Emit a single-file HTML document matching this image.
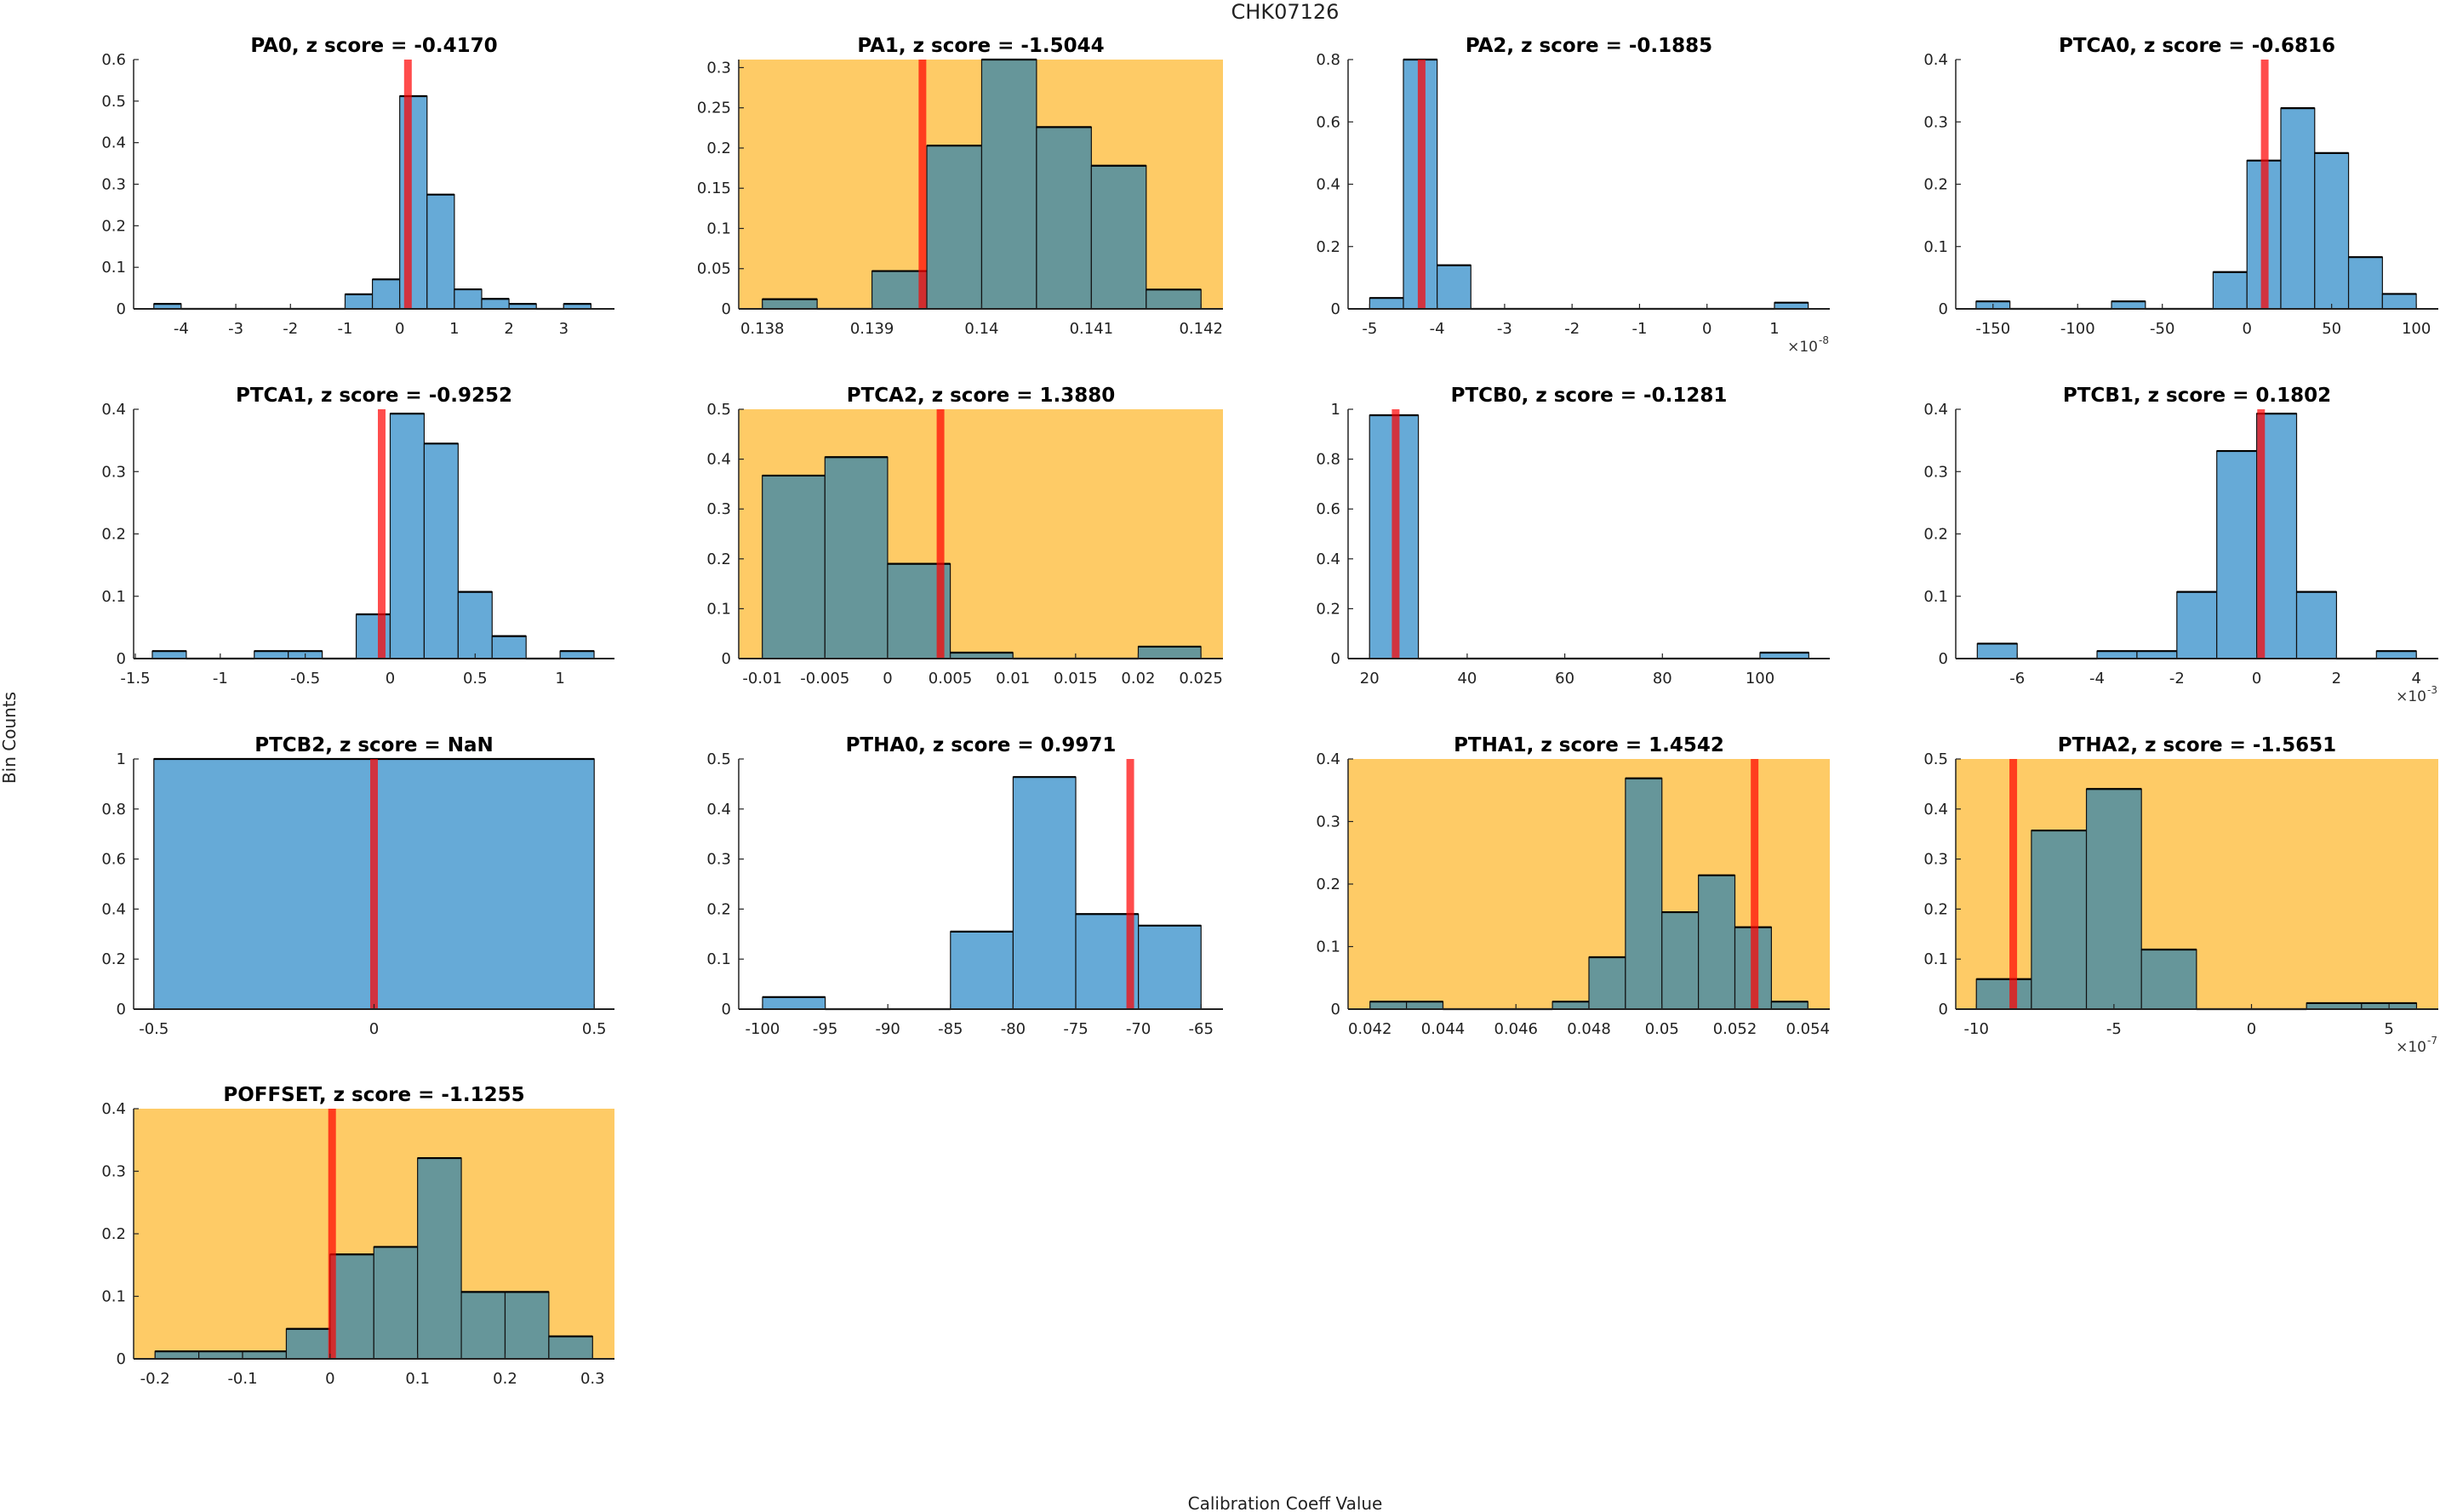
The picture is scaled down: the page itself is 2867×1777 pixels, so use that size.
<!DOCTYPE html>
<html><head><meta charset="utf-8"><style>
html,body{margin:0;padding:0;background:#fff;}
svg{display:block;font-family:"DejaVu Sans","Liberation Sans",sans-serif;}
</style></head><body>
<svg id="fig" width="2867" height="1777" viewBox="0 0 2867 1777" xmlns="http://www.w3.org/2000/svg">
<text x="1510" y="22" text-anchor="middle" font-size="24" fill="#222">CHK07126</text>
<text x="1510" y="1774" text-anchor="middle" font-size="20" fill="#222">Calibration Coeff Value</text>
<text x="0" y="0" transform="translate(18,867) rotate(-90)" text-anchor="middle" font-size="20" fill="#222">Bin Counts</text>
</svg>
<script>
const titles = ["PA0","PA1","PA2","PTCA0","PTCA1","PTCA2","PTCB0","PTCB1","PTCB2","PTHA0","PTHA1","PTHA2","POFFSET"];
const zScores = ["-0.4170","-1.5044","-0.1885","-0.6816","-0.9252","1.3880","-0.1281","0.1802","NaN","0.9971","1.4542","-1.5651","-1.1255"];
const highlighted = [false,true,false,false,false,true,false,false,false,false,true,true,true];
const binStarts = [-4.5,0.138,-5,-160,-1.4,-0.01,20,-7,-0.5,-100,0.042,-10,-0.2];
const binWidths = [0.5,0.0005,0.5,20,0.2,0.005,10,1,1,5,0.001,2,0.05];
const countsPA0 = [0.012,0,0,0,0,0,0,0.035,0.071,0.512,0.275,0.047,0.024,0.012,0,0.012];
const countsPA1 = [0.012,0,0.047,0.203,0.310,0.226,0.178,0.024];
const countsPA2 = [0.035,0.80,0.14,0,0,0,0,0,0,0,0,0,0.02];
const countsPTCA0 = [0.012,0,0,0,0.012,0,0,0.059,0.238,0.322,0.25,0.083,0.024];
const countsPTCA1 = [0.012,0,0,0.012,0.012,0,0.071,0.393,0.345,0.107,0.036,0,0.012];
const countsPTCA2 = [0.367,0.404,0.19,0.012,0,0,0.024];
const countsPTCB0 = [0.976,0,0,0,0,0,0,0,0.024];
const countsPTCB1 = [0.024,0,0,0.012,0.012,0.107,0.333,0.393,0.107,0,0.012];
const countsPTCB2 = [1];
const countsPTHA0 = [0.024,0,0,0.155,0.464,0.19,0.167];
const countsPTHA1 = [0.012,0.012,0,0,0,0.012,0.083,0.369,0.155,0.214,0.131,0.012];
const countsPTHA2 = [0.06,0.357,0.44,0.119,0,0,0.012,0.012];
const countsPOFFSET = [0.012,0.012,0.012,0.048,0.167,0.179,0.321,0.107,0.107,0.036];
const countsList = [countsPA0,countsPA1,countsPA2,countsPTCA0,countsPTCA1,countsPTCA2,countsPTCB0,countsPTCB1,countsPTCB2,countsPTHA0,countsPTHA1,countsPTHA2,countsPOFFSET];
const refValues = [0.15,0.13946,-4.23,10.5,-0.05,0.00422,25.35,0.11,0,-70.65,0.05254,-8.66,0.0023];
const xMins = [-4.87,0.137785,-5.32,-172,-1.51,-0.01188,15.6,-7.54,-0.546,-101.9,0.0414,-10.75,-0.2245];
const xMaxs = [3.93,0.1422,1.82,113,1.32,0.02676,114.3,4.55,0.546,-63.25,0.0546,6.79,0.325];
const yMaxs = [0.6,0.31,0.8,0.4,0.4,0.5,1,0.4,1,0.5,0.4,0.5,0.4];
const xTicksPA0 = [-4,-3,-2,-1,0,1,2,3];
const xTicksPA1 = [0.138,0.139,0.14,0.141,0.142];
const xTicksPA2 = [-5,-4,-3,-2,-1,0,1];
const xTicksPTCA0 = [-150,-100,-50,0,50,100];
const xTicksPTCA1 = [-1.5,-1,-0.5,0,0.5,1];
const xTicksPTCA2 = [-0.01,-0.005,0,0.005,0.01,0.015,0.02,0.025];
const xTicksPTCB0 = [20,40,60,80,100];
const xTicksPTCB1 = [-6,-4,-2,0,2,4];
const xTicksPTCB2 = [-0.5,0,0.5];
const xTicksPTHA0 = [-100,-95,-90,-85,-80,-75,-70,-65];
const xTicksPTHA1 = [0.042,0.044,0.046,0.048,0.05,0.052,0.054];
const xTicksPTHA2 = [-10,-5,0,5];
const xTicksPOFFSET = [-0.2,-0.1,0,0.1,0.2,0.3];
const xTicksList = [xTicksPA0,xTicksPA1,xTicksPA2,xTicksPTCA0,xTicksPTCA1,xTicksPTCA2,xTicksPTCB0,xTicksPTCB1,xTicksPTCB2,xTicksPTHA0,xTicksPTHA1,xTicksPTHA2,xTicksPOFFSET];
const yTicks01 = [0,0.1,0.2,0.3,0.4,0.5,0.6];
const yTicks005 = [0,0.05,0.1,0.15,0.2,0.25,0.3];
const yTicks02 = [0,0.2,0.4,0.6,0.8,1];
const yTicksList = [yTicks01,yTicks005,yTicks02,yTicks01,yTicks01,yTicks01,yTicks02,yTicks01,yTicks02,yTicks01,yTicks01,yTicks01,yTicks01];
const exponentLabels = ["","","-8","","","","","-3","","","","-7",""];

const NS = "http://www.w3.org/2000/svg";
const svg = document.getElementById("fig");
const colLeft = [157,868,1584,2298];
const colRight = [722,1437,2150,2865];
const rowTop = [70,481,892,1303];
const rowBottom = [363,774,1186,1597];

function mk(tag, attrs, parent){
  const e = document.createElementNS(NS, tag);
  for (const k in attrs) e.setAttribute(k, attrs[k]);
  parent.appendChild(e);
  return e;
}

titles.forEach((name, i) => {
  const col = i % 4, row = Math.floor(i / 4);
  const L = colLeft[col], R = colRight[col], T = rowTop[row], B = rowBottom[row];
  const xs = v => L + (v - xMins[i]) / (xMaxs[i] - xMins[i]) * (R - L);
  const ys = v => B - v / yMaxs[i] * (B - T);
  const g = mk("g", {}, svg);
  
  
  if (highlighted[i]) {
    const bg = mk("rect", {x:L, y:T, width:R-L, height:B-T, fill:"#FECB66"}, g);
    
    
  }
  const fill = highlighted[i] ? "#66969A" : "#66AAD7";
  countsList[i].forEach((c, k) => {
    const x0 = xs(binStarts[i] + k * binWidths[i]);
    const x1 = xs(binStarts[i] + (k + 1) * binWidths[i]);
    const y = ys(c);
    const r = mk("rect", {x:x0, y:y, width:x1-x0, height:Math.max(B-y,0), fill:fill, stroke:"#111", "stroke-width":1.2}, g);
    
    
    const top = mk("line", {x1:x0, x2:x1, y1:y, y2:y, stroke:"#000", "stroke-width":2.2}, g);
    
    
  });
  const rl = mk("line", {x1:xs(refValues[i]), x2:xs(refValues[i]), y1:T, y2:B, stroke:"rgba(255,0,0,0.7)", "stroke-width":9}, g);
  
  
  const ax = mk("line", {x1:L, x2:R, y1:B, y2:B, stroke:"#222", "stroke-width":2}, g);
  
  
  const ay = mk("line", {x1:L, x2:L, y1:T, y2:B, stroke:"#222", "stroke-width":1.5}, g);
  
  
  xTicksList[i].forEach(v => {
    const x = xs(v);
    const tk = mk("line", {x1:x, x2:x, y1:B, y2:B-6, stroke:"#222", "stroke-width":1.2}, g);
    
    
    const t = mk("text", {x:x, y:B+29, "text-anchor":"middle", "font-size":18, fill:"#222"}, g);
    t.textContent = String(v);
    
    
  });
  yTicksList[i].filter(v => v <= yMaxs[i] + 1e-9).forEach(v => {
    const y = ys(v);
    const tk = mk("line", {x1:L, x2:L+6, y1:y, y2:y, stroke:"#222", "stroke-width":1.2}, g);
    
    
    const t = mk("text", {x:L-9, y:y+6, "text-anchor":"end", "font-size":18, fill:"#222"}, g);
    t.textContent = String(v);
    
    
  });
  const tt = mk("text", {x:(L+R)/2, y:T-9, "text-anchor":"middle", "font-size":23, "font-weight":"bold", fill:"#000"}, g);
  tt.textContent = name + ", z score = " + zScores[i];
  
  
  if (exponentLabels[i]) {
    const ex = mk("text", {x:R-14, y:B+50, "text-anchor":"end", "font-size":17, fill:"#333"}, g);
    ex.textContent = "\u00d710";
    
    
    const sup = mk("text", {x:R-13, y:B+41, "text-anchor":"start", "font-size":12, fill:"#333"}, g);
    sup.textContent = exponentLabels[i];
    
    
  }
});
</script>
</body></html>
